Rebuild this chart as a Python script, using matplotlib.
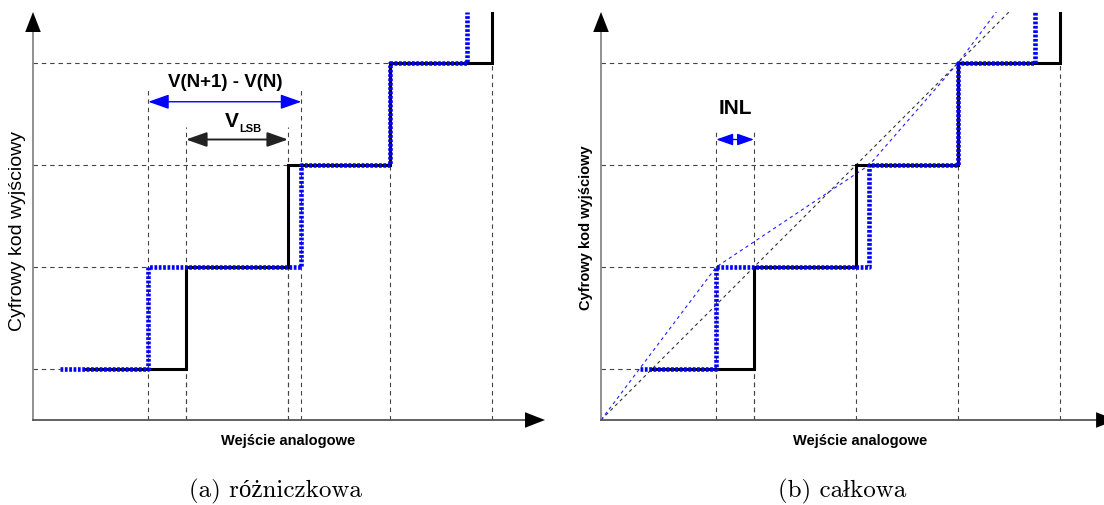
import matplotlib
matplotlib.use("Agg")
import matplotlib.pyplot as plt

# ---- data -------------------------------------------------------------
levels = [0.5, 1.5, 2.5, 3.5]               # output code levels
ideal_edges = [0.5, 1.5, 2.5, 3.5, 4.5]     # ideal converter transitions
real_edges_a = [0.26, 1.13, 2.63, 3.5, 4.25]  # real transitions, panel (a)
real_edges_b = [0.38, 1.13, 2.63, 3.5, 4.25]  # real transitions, panel (b)
top_code = 4.0
real_next = (4.25, 4.5)                     # next real transition point (b)

captions = ["(a) różniczkowa", "(b) całkowa"]
xlabel = "Wejście analogowe"
ylabel = "Cyfrowy kod wyjściowy"

W, H = 1104, 506
fig = plt.figure(figsize=(W / 100, H / 100), dpi=100)

SX, SY = 102.0, 102.0          # pixels per unit
OY = 421                        # x-axis row (pixels from top)


def make_axes(ox, right_px):
    xmax = (right_px - ox) / SX
    ax = fig.add_axes([ox / W, (H - OY) / H, (right_px - ox) / W, SY * top_code / H])
    ax.set_xlim(0, xmax)
    ax.set_ylim(0, top_code)
    ax.axis("off")
    return ax


def staircase(edges):
    xs, ys = [edges[0]], [levels[0]]
    for i in range(1, len(edges)):
        xs += [edges[i], edges[i]]
        ys += [levels[i - 1], levels[i] if i < len(levels) else top_code]
    return xs, ys


GRID = dict(color="#444444", lw=0.8, ls=(0, (4, 3.5)), zorder=1)
BLACK = dict(color="black", lw=2.2, solid_joinstyle="miter", zorder=3)
BLUE = dict(color="#0000ff", lw=3.3, ls=(0, (0.6, 0.35)), zorder=4)


def axes_arrows(ax, xtip):
    ax.plot([0, 0], [0, 3.85], color="#888888", lw=1.3, clip_on=False, zorder=2)
    ax.plot([0, xtip - 0.12], [0, 0], color="#555555", lw=1.3, clip_on=False, zorder=2)
    ax.annotate("", xy=(0, 4.0), xytext=(0, 3.78),
                arrowprops=dict(arrowstyle="-|>,head_length=0.9,head_width=0.35",
                                color="black", lw=0, mutation_scale=16,
                                shrinkA=0, shrinkB=0), annotation_clip=False)
    ax.annotate("", xy=(xtip, 0), xytext=(xtip - 0.25, 0),
                arrowprops=dict(arrowstyle="-|>,head_length=0.9,head_width=0.35",
                                color="black", lw=0, mutation_scale=16,
                                shrinkA=0, shrinkB=0), annotation_clip=False)


def dim_arrow(ax, x0, x1, y, color, lw=1.0, scale=15):
    ax.annotate("", xy=(x1, y), xytext=(x0, y),
                arrowprops=dict(arrowstyle="<|-|>,head_length=0.85,head_width=0.3",
                                color=color, lw=lw, mutation_scale=scale,
                                shrinkA=0, shrinkB=0), zorder=5)


def guides(ax, real_edges):
    # horizontal guides from the axis to the start of each step
    for i, lv in enumerate(levels):
        start = min(ideal_edges[i], real_edges[i])
        ax.plot([0, start], [lv, lv], **GRID)
    # vertical guides from the axis up to the step below
    for i in range(1, len(ideal_edges)):
        ax.plot([ideal_edges[i], ideal_edges[i]], [0, levels[i - 1]], **GRID)


BOLD = dict(family=["Liberation Sans", "DejaVu Sans"], weight="bold")
NARROW = dict(family=["Liberation Sans Narrow", "Liberation Sans", "DejaVu Sans"],
              weight="bold")
SERIF = dict(family=["cmr10", "Liberation Serif", "DejaVu Serif"])

# ---- panel (a): differential nonlinearity ------------------------------
axa = make_axes(33, 560)
guides(axa, real_edges_a)
for x, ytop in [(real_edges_a[1], 3.25), (ideal_edges[1], 2.87),
                (ideal_edges[2], 2.87), (real_edges_a[2], 3.25)]:
    axa.plot([x, x], [0, ytop], **GRID)
xs, ys = staircase(ideal_edges)
axa.plot(xs, ys, **BLACK)
xs, ys = staircase(real_edges_a)
axa.plot(xs, ys, **BLUE)
axes_arrows(axa, (545 - 33) / SX)
dim_arrow(axa, real_edges_a[1], real_edges_a[2], 3.12, "#0000ff")
dim_arrow(axa, ideal_edges[1], ideal_edges[2], 2.75, "#222222", lw=1.4)
axa.text(1.88, 3.32, "V(N+1) - V(N)", ha="center", va="center", fontsize=13.5, **BOLD)
axa.text(1.945, 2.94, "V", ha="center", va="center", fontsize=15, **BOLD)
axa.text(2.13, 2.86, "LSB", ha="center", va="center", fontsize=8, **BOLD)
axa.text((288 - 33) / SX, -0.2, xlabel, ha="center", va="center", fontsize=10.5, **NARROW)
axa.text(-0.15, 1.86, ylabel, ha="center", va="center", rotation=90, fontsize=14,
         family=["Liberation Sans", "DejaVu Sans"])
axa.text((275 - 33) / SX, -0.69, captions[0], ha="center", va="center", fontsize=18, **SERIF)

# ---- panel (b): integral nonlinearity ----------------------------------
axb = make_axes(601, 1104)
guides(axb, real_edges_b)
for x in [real_edges_b[1], ideal_edges[1]]:
    axb.plot([x, x], [0, 2.85], **GRID)
# end-point fit lines
axb.plot([0, 4.3], [0, 4.3], color="#333333", lw=0.8, ls=(0, (3, 3)), zorder=2)
fit_x = [0] + real_edges_b[1:4] + [real_next[0]]
fit_y = [0] + levels[1:4] + [real_next[1]]
axb.plot(fit_x, fit_y, color="#2020ff", lw=0.8, ls=(0, (3, 3)), zorder=2)
xs, ys = staircase(ideal_edges)
axb.plot(xs, ys, **BLACK)
xs, ys = staircase(real_edges_b)
axb.plot(xs, ys, **BLUE)
axes_arrows(axb, 5.05)
dim_arrow(axb, real_edges_b[1], ideal_edges[1], 2.75, "#0000ff", scale=12)
axb.text((735 - 601) / SX, 3.06, "INL", ha="center", va="center", fontsize=15, **BOLD)
axb.text((860 - 601) / SX, -0.2, xlabel, ha="center", va="center", fontsize=10.5, **NARROW)
axb.text(-0.15, 1.9, ylabel, ha="center", va="center", rotation=90, fontsize=10.5, **BOLD)
axb.text((842 - 601) / SX, -0.69, captions[1], ha="center", va="center", fontsize=18, **SERIF)

fig.savefig("out.png", dpi=100)
